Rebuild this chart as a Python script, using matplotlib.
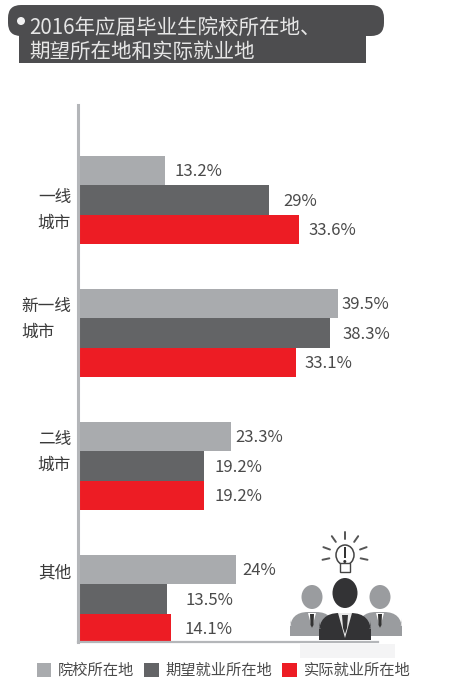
import matplotlib
matplotlib.use("Agg")
import matplotlib.pyplot as plt
from matplotlib.patches import Circle, Ellipse, FancyBboxPatch, Polygon, Rectangle, Patch
import numpy as np

plt.rcParams['font.family'] = ['Noto Sans CJK SC', 'DejaVu Sans']

title = "2016年应届毕业生院校所在地、\n期望所在地和实际就业地"
categories = ["一线\n城市", "新一线\n城市", "二线\n城市", "其他"]
series_names = ["院校所在地", "期望就业所在地", "实际就业所在地"]
school = [13.2, 39.5, 23.3, 24]
expected = [29, 38.3, 19.2, 13.5]
actual = [33.6, 33.1, 19.2, 14.1]
school_labels = ["13.2%", "39.5%", "23.3%", "24%"]
expected_labels = ["29%", "38.3%", "19.2%", "13.5%"]
actual_labels = ["33.6%", "33.1%", "19.2%", "14.1%"]
colors = ["#a9abae", "#636466", "#ed1c24"]

W, H = 455, 680
fig = plt.figure(figsize=(W / 100, H / 100), dpi=100, facecolor="white")

# chart area in pixel terms
L, R, T, B = 78, 378, 105, 642
ax = fig.add_axes([L / W, 1 - B / H, (R - L) / W, (B - T) / H])
px_per_unit = 6.58
group_px = 133.0
first_center = 200.0
ax.set_xlim(0, (R - L) / px_per_unit)
ax.set_ylim((B - first_center) / group_px, (T - first_center) / group_px)

pos = np.arange(len(categories))
bar_h = 29.5 / group_px
all_vals = [school, expected, actual]
all_labels = [school_labels, expected_labels, actual_labels]
label_gaps = [[10, 4, 4, 6], [14, 12, 10, 19], [9, 9, 10, 14]]
for k, (vals, labs, gaps) in enumerate(zip(all_vals, all_labels, label_gaps)):
    y = pos + (k - 1) * bar_h
    ax.barh(y, vals, height=bar_h, color=colors[k], linewidth=0, zorder=2)
    for yi, v, lab, g in zip(y, vals, labs, gaps):
        ax.annotate(lab, (v, yi), xytext=(g * 0.72, -1), textcoords="offset points",
                    ha="left", va="center", fontsize=12, color="#4a4a4a",
                    annotation_clip=False, zorder=5)

ax.set_yticks(pos + np.array([4, -20, -20, -28]) / group_px)
ax.set_yticklabels(categories, fontsize=12, color="#3a3a3a", multialignment="left", linespacing=1.65)
ax.tick_params(axis="y", length=0, pad=5)
ax.tick_params(axis="x", length=0, labelbottom=False)
for s in ("top", "right"):
    ax.spines[s].set_visible(False)
ax.spines["left"].set_color("#b4b6b9")
ax.spines["left"].set_linewidth(2.2)
ax.spines["bottom"].set_color("#b4b6b9")
ax.spines["bottom"].set_linewidth(1.6)
ax.set_facecolor("none")

handles = [Patch(facecolor=c, edgecolor="none") for c in colors]
fig.legend(handles, series_names, loc="lower left", bbox_to_anchor=(35 / W, -0.001), ncol=3, frameon=False,
           fontsize=11, handlelength=0.95, handleheight=1.0, handletextpad=0.45,
           columnspacing=0.65, labelcolor="#4a4a4a", borderpad=0.0, borderaxespad=0.1)

# header banner and illustration in pixel coordinates
ov = fig.add_axes([0, 0, 1, 1], zorder=10)
ov.set_xlim(0, W)
ov.set_ylim(H, 0)
ov.axis("off")
ov.patch.set_alpha(0)
dark = "#4d4d4f"
ov.add_patch(FancyBboxPatch((8, 5), 376, 31, boxstyle="round,pad=0,rounding_size=13", fc=dark, ec="none", mutation_aspect=1))
ov.add_patch(Rectangle((19, 20), 347, 42.5, fc=dark, ec="none"))
ov.add_patch(Circle((21, 21), 4, fc="#f2f2f2", ec="none"))
ov.text(29, 40, title, fontsize=14.8, color="#e6e6e6", ha="left", va="center", linespacing=1.08)

def person(cx, head_y, rx, ry, bw, top, bot, col):
    ov.add_patch(Ellipse((cx, head_y), 2 * rx, 2 * ry, fc=col, ec="none"))
    ov.add_patch(FancyBboxPatch((cx - bw, top), 2 * bw, bot - top,
                                boxstyle=f"round,pad=0,rounding_size={(bot - top) * 0.75}", fc=col, ec="none"))
    ov.add_patch(Rectangle((cx - bw, (top + bot) / 2 + 2), 2 * bw, (bot - top) / 2 - 2, fc=col, ec="none"))

# faint reflection under the figures
ov.add_patch(Rectangle((300, 644), 95, 14, fc="#f4f4f5", ec="none"))
person(312, 597, 10.5, 12, 22, 612, 636, "#9a9c9f")
person(380, 597, 10.5, 12, 22, 612, 636, "#9a9c9f")
for cx in (312, 380):
    ov.add_patch(Polygon([[cx - 4, 613], [cx + 4, 613], [cx, 628]], fc="white", ec="none"))
    ov.add_patch(Polygon([[cx - 2, 614], [cx + 2, 614], [cx + 1.5, 625], [cx, 628], [cx - 1.5, 625]], fc="#333333", ec="none"))
person(345, 593, 12.5, 15, 26, 613, 640, "#333335")
ov.add_patch(Polygon([[338, 613], [352, 613], [345, 638]], fc="#e8e8e8", ec="none"))
ov.add_patch(Polygon([[342, 615], [348, 615], [347, 628], [345, 634], [343, 628]], fc="#333335", ec="none"))

# light bulb
ov.add_patch(Ellipse((345, 555), 18, 20, fc="white", ec="#444444", lw=1.1))
ov.add_patch(Rectangle((340, 563), 10, 9, fc="white", ec="#444444", lw=1.0))
ov.add_patch(Rectangle((343.5, 547), 2.6, 11, fc="#333333", ec="none"))
ov.add_patch(Circle((344.8, 561.5), 1.5, fc="#333333", ec="none"))
ray_angles = np.deg2rad([-90, -55, -125, -20, -160, 12, 168])
for a in ray_angles:
    ov.plot([345 + 16 * np.cos(a), 345 + 23 * np.cos(a)], [555 + 16 * np.sin(a), 555 + 23 * np.sin(a)],
            color="#555555", lw=1.4, solid_capstyle="round")

fig.savefig("out.png", dpi=100, facecolor="white")
